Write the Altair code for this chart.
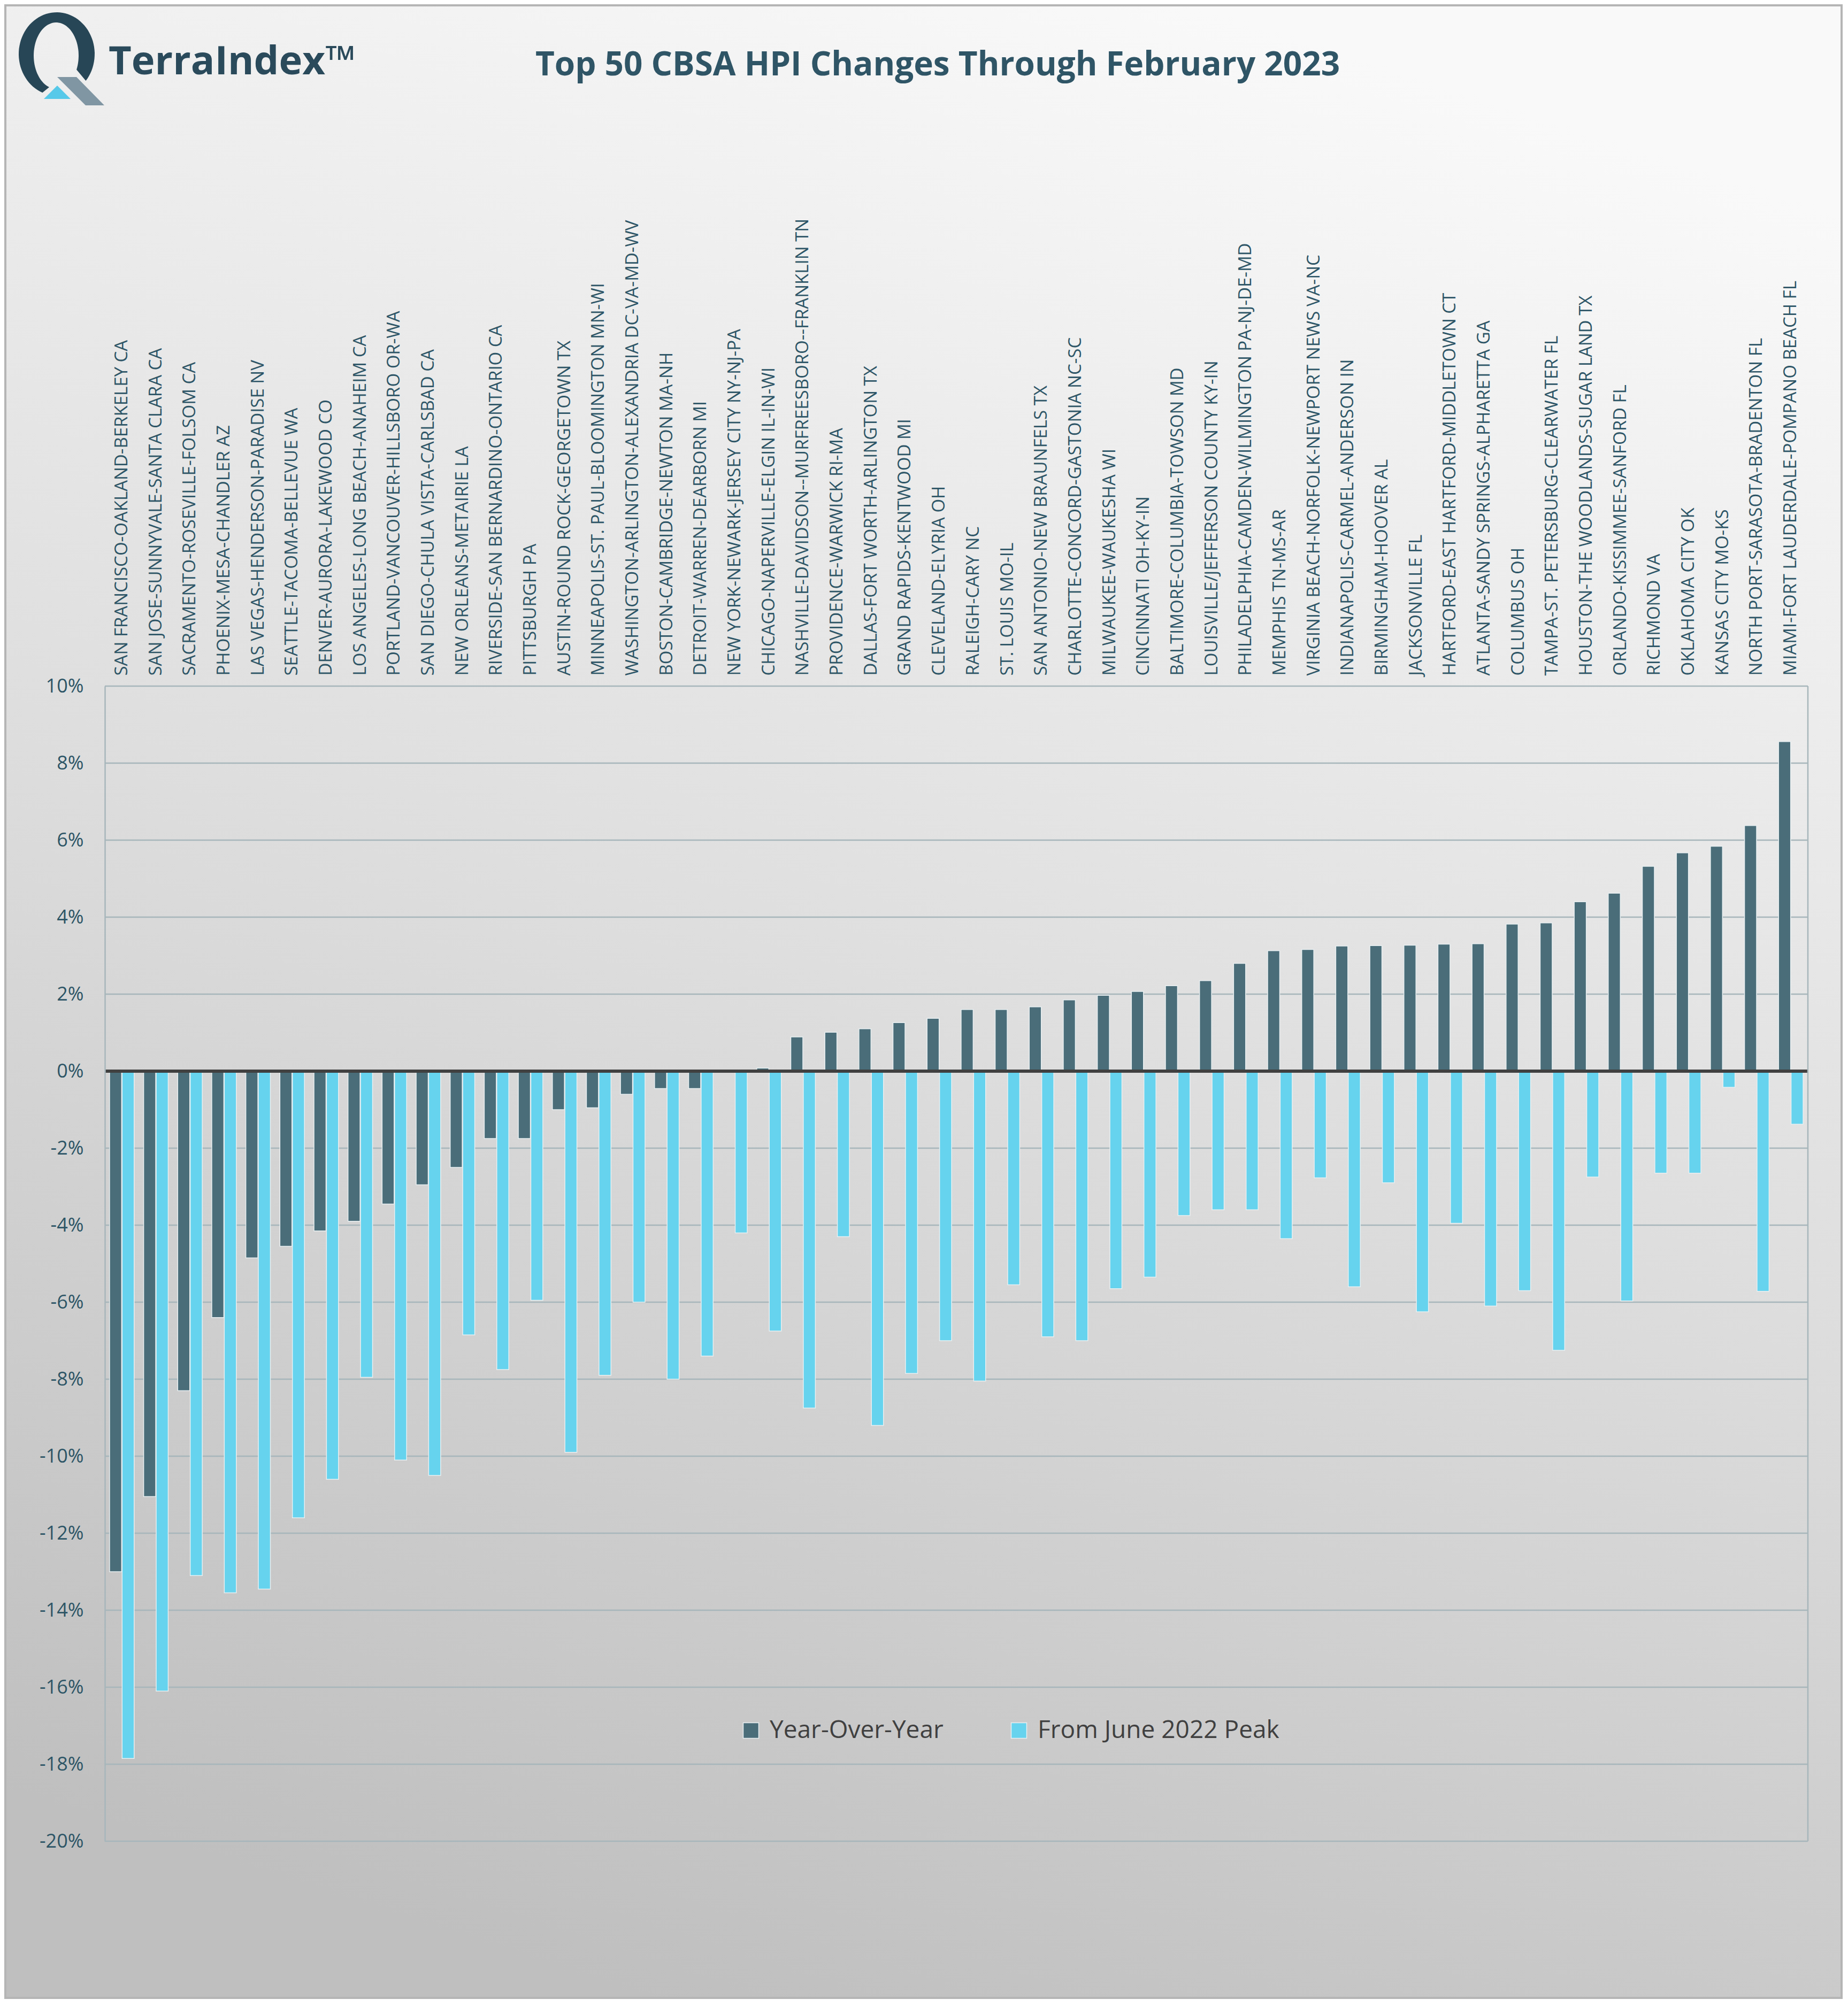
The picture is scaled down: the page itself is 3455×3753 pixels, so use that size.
import altair as alt
import pandas as pd
import numpy as np

# ---------------- data ----------------
CATEGORIES = [
    "SAN FRANCISCO-OAKLAND-BERKELEY CA",
    "SAN JOSE-SUNNYVALE-SANTA CLARA CA",
    "SACRAMENTO-ROSEVILLE-FOLSOM CA",
    "PHOENIX-MESA-CHANDLER AZ",
    "LAS VEGAS-HENDERSON-PARADISE NV",
    "SEATTLE-TACOMA-BELLEVUE WA",
    "DENVER-AURORA-LAKEWOOD CO",
    "LOS ANGELES-LONG BEACH-ANAHEIM CA",
    "PORTLAND-VANCOUVER-HILLSBORO OR-WA",
    "SAN DIEGO-CHULA VISTA-CARLSBAD CA",
    "NEW ORLEANS-METAIRIE LA",
    "RIVERSIDE-SAN BERNARDINO-ONTARIO CA",
    "PITTSBURGH PA",
    "AUSTIN-ROUND ROCK-GEORGETOWN TX",
    "MINNEAPOLIS-ST. PAUL-BLOOMINGTON MN-WI",
    "WASHINGTON-ARLINGTON-ALEXANDRIA DC-VA-MD-WV",
    "BOSTON-CAMBRIDGE-NEWTON MA-NH",
    "DETROIT-WARREN-DEARBORN MI",
    "NEW YORK-NEWARK-JERSEY CITY NY-NJ-PA",
    "CHICAGO-NAPERVILLE-ELGIN IL-IN-WI",
    "NASHVILLE-DAVIDSON--MURFREESBORO--FRANKLIN TN",
    "PROVIDENCE-WARWICK RI-MA",
    "DALLAS-FORT WORTH-ARLINGTON TX",
    "GRAND RAPIDS-KENTWOOD MI",
    "CLEVELAND-ELYRIA OH",
    "RALEIGH-CARY NC",
    "ST. LOUIS MO-IL",
    "SAN ANTONIO-NEW BRAUNFELS TX",
    "CHARLOTTE-CONCORD-GASTONIA NC-SC",
    "MILWAUKEE-WAUKESHA WI",
    "CINCINNATI OH-KY-IN",
    "BALTIMORE-COLUMBIA-TOWSON MD",
    "LOUISVILLE/JEFFERSON COUNTY KY-IN",
    "PHILADELPHIA-CAMDEN-WILMINGTON PA-NJ-DE-MD",
    "MEMPHIS TN-MS-AR",
    "VIRGINIA BEACH-NORFOLK-NEWPORT NEWS VA-NC",
    "INDIANAPOLIS-CARMEL-ANDERSON IN",
    "BIRMINGHAM-HOOVER AL",
    "JACKSONVILLE FL",
    "HARTFORD-EAST HARTFORD-MIDDLETOWN CT",
    "ATLANTA-SANDY SPRINGS-ALPHARETTA GA",
    "COLUMBUS OH",
    "TAMPA-ST. PETERSBURG-CLEARWATER FL",
    "HOUSTON-THE WOODLANDS-SUGAR LAND TX",
    "ORLANDO-KISSIMMEE-SANFORD FL",
    "RICHMOND VA",
    "OKLAHOMA CITY OK",
    "KANSAS CITY MO-KS",
    "NORTH PORT-SARASOTA-BRADENTON FL",
    "MIAMI-FORT LAUDERDALE-POMPANO BEACH FL",
]

YOY = [
    -13.0, -11.05, -8.3, -6.4, -4.85, -4.55, -4.15, -3.9, -3.45, -2.95,
    -2.5, -1.75, -1.75, -1.0, -0.95, -0.6, -0.45, -0.45, 0.02, 0.08,
    0.89, 1.01, 1.1, 1.26, 1.37, 1.6, 1.6, 1.67, 1.85, 1.97,
    2.07, 2.22, 2.35, 2.8, 3.13, 3.16, 3.25, 3.26, 3.27, 3.3,
    3.31, 3.82, 3.85, 4.4, 4.62, 5.32, 5.67, 5.84, 6.38, 8.56,
]

PEAK = [
    -17.85, -16.1, -13.1, -13.55, -13.45, -11.6, -10.6, -7.95, -10.1, -10.5,
    -6.85, -7.75, -5.95, -9.9, -7.9, -6.0, -8.0, -7.4, -4.2, -6.75,
    -8.75, -4.3, -9.2, -7.85, -7.0, -8.05, -5.55, -6.9, -7.0, -5.65,
    -5.35, -3.75, -3.6, -3.6, -4.35, -2.77, -5.6, -2.9, -6.25, -3.95,
    -6.1, -5.7, -7.25, -2.75, -5.97, -2.65, -2.65, -0.42, -5.72, -1.38,
]

SERIES = ["Year-Over-Year", "From June 2022 Peak"]
SERIES_COLORS = ["#4a6d79", "#66d3ee"]
Y_TICKS = [-20, -18, -16, -14, -12, -10, -8, -6, -4, -2, 0, 2, 4, 6, 8, 10]
TITLE = "Top 50 CBSA HPI Changes Through February 2023"
BRAND = "TerraIndex\u2122"

# ---------------- layout (pixels) ----------------
PLOT_LEFT, PLOT_TOP = 196, 1283          # plot origin on the page
W, H = 3184, 2160                         # plot area
BG_X0, BG_X1 = 8 - PLOT_LEFT, 3445 - PLOT_LEFT
BG_Y0, BG_Y1 = 8 - PLOT_TOP, 3738 - PLOT_TOP

TEXT_COLOR = "#2d5566"
GRID_COLOR = "#a7b6bb"
FONT = "Open Sans"

one = pd.DataFrame({"k": [0]})

df = pd.DataFrame({
    "cbsa": CATEGORIES * 2,
    "series": [SERIES[0]] * len(CATEGORIES) + [SERIES[1]] * len(CATEGORIES),
    "value": YOY + PEAK,
})

# background gradient panel
bg = alt.Chart(one).mark_rect(
    fill=alt.LinearGradient(
        gradient="linear",
        stops=[
            alt.GradientStop(color="#f9f9f9", offset=0),
            alt.GradientStop(color="#dedede", offset=0.5),
            alt.GradientStop(color="#bfbfbf", offset=1),
        ],
        x1=0.65, y1=0, x2=0.35, y2=1,
    )
).encode(x=alt.value(BG_X0), x2=alt.value(BG_X1), y=alt.value(BG_Y0), y2=alt.value(BG_Y1))

frame = alt.Chart(one).mark_rect(
    filled=False, stroke="#b5b5b5", strokeWidth=4
).encode(x=alt.value(BG_X0 + 2), x2=alt.value(BG_X1 - 2),
         y=alt.value(BG_Y0 + 2), y2=alt.value(BG_Y1 - 2))

grid = alt.Chart(pd.DataFrame({"v": Y_TICKS})).mark_rule(
    color=GRID_COLOR, strokeWidth=2.5
).encode(y=alt.Y("v:Q"))

bars = alt.Chart(df).mark_bar(stroke="#e8eff1", strokeWidth=1.5).encode(
    x=alt.X(
        "cbsa:N", sort=CATEGORIES,
        scale=alt.Scale(paddingInner=0.28, paddingOuter=0.14),
        axis=alt.Axis(
            orient="top", title=None, labelAngle=270, labelAlign="left",
            labelBaseline="middle", labelPadding=20, labelFontSize=33,
            labelFont=FONT, labelColor=TEXT_COLOR, labelLimit=2000,
            labelOverlap=False, domain=False, ticks=False, grid=False, zindex=1,
        ),
    ),
    xOffset=alt.XOffset("series:N", sort=SERIES, scale=alt.Scale(paddingInner=0.04)),
    y=alt.Y(
        "value:Q",
        scale=alt.Scale(domain=[-20, 10], nice=False, zero=False),
        axis=alt.Axis(
            title=None, values=Y_TICKS, labelExpr="datum.value + '%'",
            grid=False, ticks=False, domain=True, domainColor=GRID_COLOR,
            domainWidth=2.5, labelFontSize=36, labelFont=FONT,
            labelColor=TEXT_COLOR, labelPadding=40, zindex=1,
        ),
    ),
    color=alt.Color(
        "series:N", sort=SERIES,
        scale=alt.Scale(domain=SERIES, range=SERIES_COLORS),
        legend=alt.Legend(
            title=None, orient="none", legendX=1185, legendY=1930,
            direction="horizontal", symbolType="square", symbolSize=841,
            symbolStrokeColor="#e8eff1", symbolStrokeWidth=1.5,
            labelFont=FONT, labelFontSize=46, labelColor="#404040",
            labelLimit=1000, labelOffset=12, columnPadding=118,
            padding=0, zindex=1,
        ),
    ),
)

zero = alt.Chart(pd.DataFrame({"v": [0]})).mark_rule(
    color="#404040", strokeWidth=6
).encode(y=alt.Y("v:Q"))

right_border = alt.Chart(one).mark_rule(color=GRID_COLOR, strokeWidth=2.5).encode(
    x=alt.value(W), y=alt.value(0), y2=alt.value(H)
)

title = alt.Chart(pd.DataFrame({"t": [TITLE]})).mark_text(
    align="center", baseline="alphabetic", font=FONT, fontWeight="bold",
    fontSize=62, color="#2f5566",
).encode(text="t:N", x=alt.value(1753 - PLOT_LEFT), y=alt.value(141 - PLOT_TOP))

brand = alt.Chart(pd.DataFrame({"t": [BRAND]})).mark_text(
    align="left", baseline="alphabetic", font=FONT, fontWeight="bold",
    fontSize=74, color="#2a4a5b",
).encode(text="t:N", x=alt.value(203 - PLOT_LEFT), y=alt.value(139 - PLOT_TOP))

# logo shapes (page-pixel paths, drawn at page origin with unit scale)
def ring_path():
    a_out = np.radians(np.linspace(112, 400, 70))
    a_in = np.radians(np.linspace(385, 108, 70))
    pts = [(106 + 71 * np.cos(a), 101 + 78 * np.sin(a)) for a in a_out]
    pts += [(105 + 42 * np.cos(a), 104 + 62 * np.sin(a)) for a in a_in]
    return "M" + " L".join(f"{x:.1f},{y:.1f}" for x, y in pts) + " Z"

LOGO_PARTS = [
    (ring_path(), "#274656"),
    ("M107,144 L143,144 L195,197 L160,197 Z", "#8096a3"),
    ("M82,185 L107,160 L132,185 Z", "#57c9e9"),
]
logo_layers = [
    alt.Chart(one).mark_point(
        shape=p, filled=True, fill=c, size=4, opacity=1, strokeWidth=0
    ).encode(x=alt.value(-PLOT_LEFT), y=alt.value(-PLOT_TOP))
    for p, c in LOGO_PARTS
]

chart = alt.layer(
    bg, frame, grid, bars, zero, right_border, title, brand, *logo_layers
).properties(width=W, height=H, padding=0).configure_view(strokeWidth=0)

chart.save("out.html", embed_options={"renderer": "svg", "actions": False})
